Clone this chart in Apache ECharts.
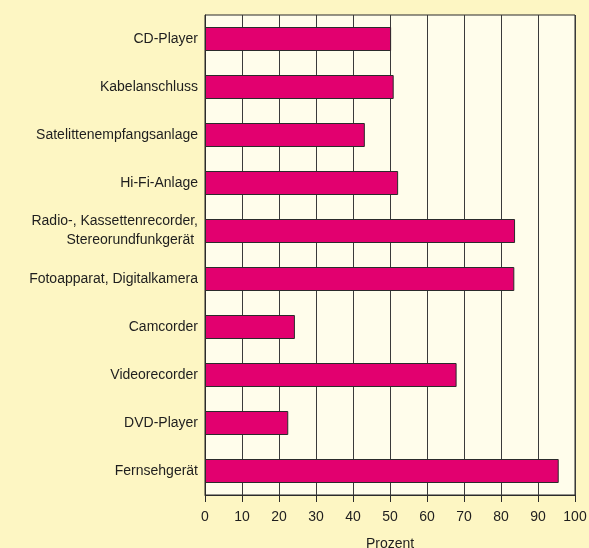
<!DOCTYPE html>
<html>
<head>
<meta charset="utf-8" />
<title></title>
<script type="text/javascript" src="https://cdn.jsdelivr.net/npm/echarts@6/dist/echarts.min.js"></script>
<style>
  html, body { margin: 0; padding: 0; background: #fdf6c3; }
</style>
</head>
<body>
<div id="chart" style="width: 589px;height: 548px;"></div>
<script type="text/javascript">
var categories = [
    'CD-Player',
    'Kabelanschluss',
    'Satelittenempfangsanlage',
    'Hi-Fi-Anlage',
    'Radio-, Kassettenrecorder,\nStereorundfunkgerät ',
    'Fotoapparat, Digitalkamera',
    'Camcorder',
    'Videorecorder',
    'DVD-Player',
    'Fernsehgerät'
];
var values = [50.3, 51, 43.2, 52.2, 83.8, 83.6, 24.3, 68, 22.5, 95.6];

var chart = echarts.init(document.getElementById('chart'));
var option = {
    backgroundColor: '#fdf6c3',
    textStyle: { fontFamily: 'Liberation Sans, Arial, sans-serif' },
    grid: {
        left: 205,
        right: 14,
        top: 15,
        bottom: 53,
        outerBoundsMode: 'none',
        containLabel: false,
        show: true,
        backgroundColor: '#fffdeb',
        borderColor: '#2b2b2b',
        borderWidth: 1
    },
    xAxis: {
        type: 'value',
        min: 0,
        max: 100,
        interval: 10,
        name: 'Prozent',
        nameLocation: 'middle',
        nameGap: 42,
        nameTextStyle: { fontSize: 14, color: '#1e1e1e' },
        axisLine: { show: true, lineStyle: { color: '#2b2b2b', width: 1 } },
        axisTick: { show: true, length: 7, lineStyle: { color: '#2b2b2b' } },
        axisLabel: { fontSize: 14, color: '#1e1e1e', margin: 15 },
        splitLine: { show: true, lineStyle: { color: '#3a3a3a', width: 1 } }
    },
    yAxis: {
        type: 'category',
        inverse: true,
        data: categories,
        axisLine: { show: true, lineStyle: { color: '#2b2b2b', width: 1 } },
        axisTick: { show: false },
        axisLabel: { fontSize: 14, color: '#1e1e1e', margin: 7, lineHeight: 19 }
    },
    series: [{
        type: 'bar',
        data: values,
        barWidth: 24,
        itemStyle: {
            color: '#e2006f',
            borderColor: '#2b2b2b',
            borderWidth: 1
        }
    }]
};
chart.setOption(option);
</script>
</body>
</html>
